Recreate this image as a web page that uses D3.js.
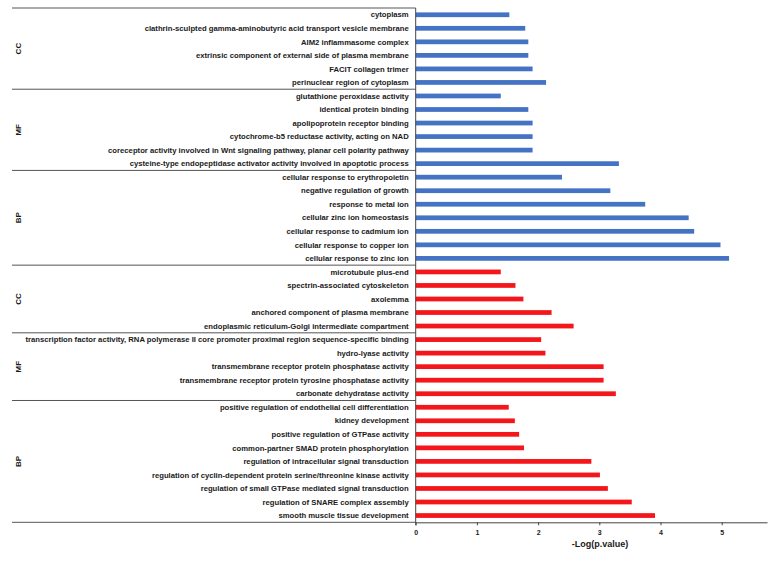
<!DOCTYPE html>
<html>
    <head>
        <script src="https://d3js.org/d3.v7.min.js"></script>
        <style>
            body {
                margin: 0;
                background: #fff;
            }
            text {
                font-family: 'Liberation Sans', Arial, sans-serif;
                font-weight: bold;
                fill: #1a1a1a;
            }
        </style>
    </head>
    <body>
        <script>
            const terms = [
                'cytoplasm',
                'clathrin-sculpted gamma-aminobutyric acid transport vesicle membrane',
                'AIM2 inflammasome complex',
                'extrinsic component of external side of plasma membrane',
                'FACIT collagen trimer',
                'perinuclear region of cytoplasm',
                'glutathione peroxidase activity',
                'identical protein binding',
                'apolipoprotein receptor binding',
                'cytochrome-b5 reductase activity, acting on NAD',
                'coreceptor activity involved in Wnt signaling pathway, planar cell polarity pathway',
                'cysteine-type endopeptidase activator activity involved in apoptotic process',
                'cellular response to erythropoietin',
                'negative regulation of growth',
                'response to metal ion',
                'cellular zinc ion homeostasis',
                'cellular response to cadmium ion',
                'cellular response to copper ion',
                'cellular response to zinc ion',
                'microtubule plus-end',
                'spectrin-associated cytoskeleton',
                'axolemma',
                'anchored component of plasma membrane',
                'endoplasmic reticulum-Golgi intermediate compartment',
                'transcription factor activity, RNA polymerase II core promoter proximal region sequence-specific binding',
                'hydro-lyase activity',
                'transmembrane receptor protein phosphatase activity',
                'transmembrane receptor protein tyrosine phosphatase activity',
                'carbonate dehydratase activity',
                'positive regulation of endothelial cell differentiation',
                'kidney development',
                'positive regulation of GTPase activity',
                'common-partner SMAD protein phosphorylation',
                'regulation of intracellular signal transduction',
                'regulation of cyclin-dependent protein serine/threonine kinase activity',
                'regulation of small GTPase mediated signal transduction',
                'regulation of SNARE complex assembly',
                'smooth muscle tissue development'
            ];
            const logP = [
                1.53, 1.79, 1.84, 1.84, 1.91, 2.13,
                1.39, 1.84, 1.91, 1.91, 1.91, 3.32,
                2.39, 3.18, 3.75, 4.46, 4.55, 4.98, 5.12,
                1.39, 1.63, 1.76, 2.22, 2.58,
                2.05, 2.12, 3.07, 3.07, 3.27,
                1.52, 1.62, 1.69, 1.77, 2.87, 3.01, 3.14, 3.53, 3.91
            ];
            const groupNames = ['CC', 'MF', 'BP', 'CC', 'MF', 'BP'];
            const groupSizes = [6, 6, 7, 5, 5, 9];
            const groupColors = ['#4472C4', '#4472C4', '#4472C4', '#F5161B', '#F5161B', '#F5161B'];
            const xTicks = [0, 1, 2, 3, 4, 5];

            const width = 771;
            const height = 561;
            const plotLeft = 415.7;
            const plotTop = 8;
            const plotBottom = 522.3;
            const boxLeft = 12;

            // each term gets its group index
            const groupOf = [];
            groupSizes.forEach((n, g) => {
                for (let i = 0; i < n; i++) groupOf.push(g);
            });
            const rows = terms.map((t, i) => ({ i, term: t, value: logP[i], group: groupOf[i] }));

            const svg = d3.select('body').append('svg').attr('width', width).attr('height', height);

            const x = d3.scaleLinear().domain([0, 5.74]).range([plotLeft, 767]);
            const y = d3
                .scaleBand()
                .domain(rows.map((d) => d.i))
                .range([plotTop, plotBottom])
                .paddingInner(0.65)
                .paddingOuter(0.325);
            const step = y.step();

            svg.append('g')
                .selectAll('rect')
                .data(rows)
                .enter()
                .append('rect')
                .attr('x', x(0))
                .attr('y', (d) => y(d.i))
                .attr('width', (d) => x(d.value) - x(0))
                .attr('height', y.bandwidth())
                .attr('fill', (d) => groupColors[d.group]);

            svg.append('g')
                .selectAll('text')
                .data(rows)
                .enter()
                .append('text')
                .attr('x', plotLeft - 7)
                .attr('y', (d) => y(d.i) + y.bandwidth() / 2)
                .attr('dy', '0.35em')
                .attr('text-anchor', 'end')
                .style('font-size', '7.7px')
                .text((d) => d.term);

            // group separators and labels
            let start = 0;
            const bounds = [0];
            groupSizes.forEach((n) => {
                start += n;
                bounds.push(start);
            });
            svg.append('g')
                .selectAll('line')
                .data(bounds)
                .enter()
                .append('line')
                .attr('x1', boxLeft)
                .attr('x2', plotLeft)
                .attr('y1', (b) => plotTop + b * step)
                .attr('y2', (b) => plotTop + b * step)
                .attr('stroke', '#555')
                .attr('stroke-width', 1);

            svg.append('g')
                .selectAll('text')
                .data(groupNames)
                .enter()
                .append('text')
                .attr('transform', (g, k) => {
                    const cy = plotTop + ((bounds[k] + bounds[k + 1]) / 2) * step;
                    return `translate(18,${cy}) rotate(-90)`;
                })
                .attr('dy', '0.35em')
                .attr('text-anchor', 'middle')
                .style('font-size', '8px')
                .text((g) => g);

            // axes
            const xAxis = svg
                .append('g')
                .attr('transform', `translate(0,${plotBottom})`)
                .call(d3.axisBottom(x).tickValues(xTicks).tickFormat(d3.format('d')).tickSize(3).tickSizeOuter(0));
            xAxis.select('.domain').attr('stroke', '#444');
            xAxis.selectAll('.tick line').attr('stroke', '#444');
            xAxis.selectAll('.tick text').style('font-size', '7px').attr('dy', '0.9em').attr('fill', '#1a1a1a');

            svg.append('line')
                .attr('x1', plotLeft)
                .attr('x2', plotLeft)
                .attr('y1', plotTop)
                .attr('y2', plotBottom + 3)
                .attr('stroke', '#444');

            svg.append('text')
                .attr('x', 600)
                .attr('y', 547)
                .attr('text-anchor', 'middle')
                .style('font-size', '9px')
                .text('-Log(p.value)');
        </script>
    </body>
</html>
